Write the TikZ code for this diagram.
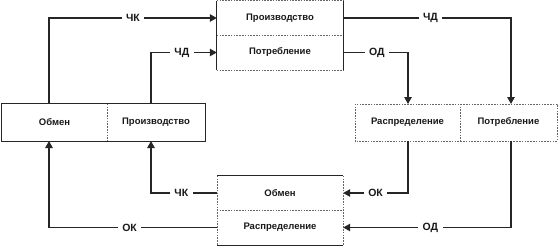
\documentclass[tikz,border=0pt]{standalone}
\usepackage{fontspec}
\setmainfont{Liberation Sans}
\usetikzlibrary{arrows.meta}
\begin{document}
\begin{tikzpicture}[x=1pt,y=-1pt,
  cell/.style={inner sep=0pt, font=\bfseries\fontsize{9.5}{10}\selectfont, text=black!90},
  lab/.style={fill=white, inner xsep=4.5pt, inner ysep=1pt, font=\bfseries\fontsize{10.5}{11}\selectfont, text=black!90},
  conn/.style={line width=1.2pt, draw=black!85},
  arr/.style={conn, -{Triangle[length=7pt,width=7.5pt]}},
  solidb/.style={line width=1.1pt, draw=black!85},
  dashb/.style={line width=0.6pt, draw=black!60, dash pattern=on 1.6pt off 1.2pt}]
\useasboundingbox (0,0) rectangle (559,246);
% top box
\node[cell, minimum width=126pt, minimum height=34pt] (tp) at (280,18) {Производство};
\node[cell, minimum width=126pt, minimum height=35pt] (tc) at (280,52.5) {Потребление};
% left box
\node[cell, minimum width=105pt, minimum height=37pt] (lo) at (54.5,122.5) {Обмен};
\node[cell, minimum width=98pt, minimum height=37pt] (lp) at (156,122.5) {Производство};
% right box
\node[cell, minimum width=105pt, minimum height=37pt] (rr) at (407.5,122.5) {Распределение};
\node[cell, minimum width=97pt, minimum height=37pt] (rc) at (508.5,122.5) {Потребление};
% bottom box
\node[cell, minimum width=126pt, minimum height=34pt] (bo) at (280,193) {Обмен};
\node[cell, minimum width=126pt, minimum height=35pt] (br) at (280,227.5) {Распределение};

% borders: top box
\draw[dashb] (tp.north west) -- (tp.north east);
\draw[dashb] (tp.south west) -- (tp.south east);
\draw[dashb] (tc.south west) -- (tc.south east);
\draw[solidb] (tp.north west) -- (tc.south west);
\draw[solidb] (tp.north east) -- (tc.south east);
% left box
\draw[dashb] (lo.north east) -- (lo.south east);
\draw[solidb] (lo.north west) rectangle (lp.south east);
% right box
\draw[dashb] (rr.north west) rectangle (rc.south east);
\draw[dashb] (rr.north east) -- (rr.south east);
% bottom box
\draw[dashb] (bo.south west) -- (bo.south east);
\draw[dashb] (bo.north west) -- (br.south west);
\draw[dashb] (bo.north east) -- (br.south east);
\draw[solidb] (bo.north west) -- (bo.north east);
\draw[solidb] (br.south west) -- (br.south east);

% connector anchors
\coordinate (a1) at (49,104);
\coordinate (a2) at (151,104);
\coordinate (a3) at (511,104);
\coordinate (a4) at (408,104);
\coordinate (b5) at (408,141);
\coordinate (b6) at (511,141);
\coordinate (b7) at (151,141);
\coordinate (b8) at (49,141);

\draw[arr] (a1) |- node[lab, pos=0.75] {ЧК} (tp.west);
\draw[arr] (a2) |- node[lab, pos=0.735] {ЧД} (tc.west);
\draw[arr] (tp.east) -| node[lab, pos=0.26] {ЧД} (a3);
\draw[arr] (tc.east) -| node[lab, pos=0.26] {ОД} (a4);
\draw[arr] (b5) |- node[lab, pos=0.75] {ОК} (bo.east);
\draw[arr] (b6) |- node[lab, pos=0.74] {ОД} (br.east);
\draw[arr] (bo.west) -| node[lab, pos=0.27] {ЧК} (b7);
\draw[arr] (br.west) -| node[lab, pos=0.26] {ОК} (b8);
\end{tikzpicture}
\end{document}
